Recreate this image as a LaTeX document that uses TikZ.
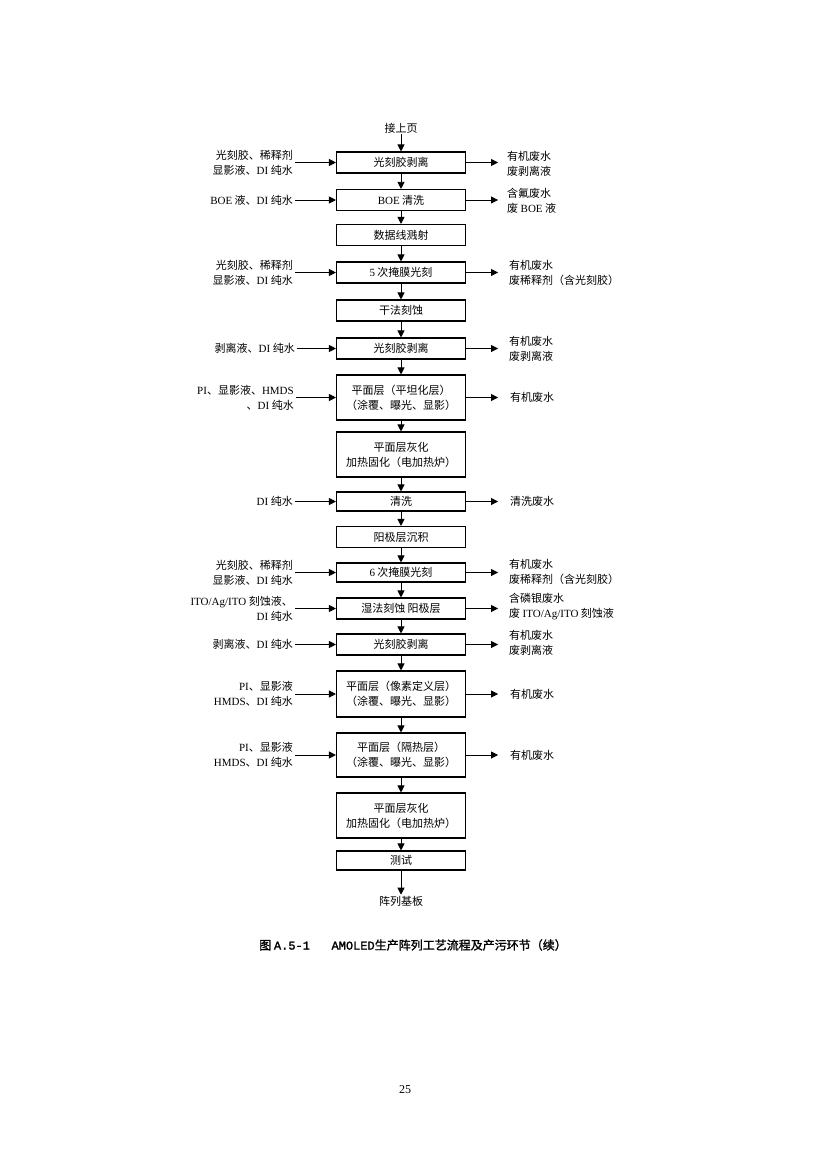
\documentclass[tikz,border=0pt]{standalone}
\usepackage{fontspec}
\setmainfont{Noto Sans CJK SC}
\newfontfamily\lt{Liberation Serif}
\newfontfamily\capcjk{Noto Sans CJK SC}[FakeBold=1.5]
\newfontfamily\capmono{Liberation Mono}[FakeBold=1.5]
\newcommand\Lt[1]{{\lt #1}}
\usetikzlibrary{arrows.meta}
\begin{document}
\begin{tikzpicture}[x=1pt,y=-1pt,
  font=\fontsize{11}{15}\selectfont,
  box/.style={draw,line width=1.1pt,minimum width=129pt,inner sep=1pt,align=center},
  sbox/.style={box,minimum height=21pt},
  dbox/.style={box,minimum height=45pt},
  lab/.style={inner sep=2pt,align=right,anchor=east},
  rlab/.style={inner sep=2pt,align=left,anchor=west},
  arr/.style={-{Triangle[length=7pt,width=7pt]},line width=0.8pt}]
\useasboundingbox (0,0) rectangle (826,1169);
\node[inner sep=1pt] (top) at (401,128) {接上页};
\node[sbox] (b1) at (401,162.5) {光刻胶剥离};
\node[sbox] (b2) at (401,200) {\Lt{BOE} 清洗};
\node[sbox] (b3) at (401,235) {数据线溅射};
\node[sbox] (b4) at (401,272.5) {\Lt{5} 次掩膜光刻};
\node[sbox] (b5) at (401,310.5) {干法刻蚀};
\node[sbox] (b6) at (401,348.5) {光刻胶剥离};
\node[dbox] (b7) at (401,397.5) {平面层（平坦化层）\\（涂覆、曝光、显影）};
\node[dbox] (b8) at (401,454.5) {平面层灰化\\加热固化（电加热炉）};
\node[sbox,minimum height=19pt] (b9) at (401,501.5) {清洗};
\node[sbox] (b10) at (401,537) {阳极层沉积};
\node[sbox,minimum height=19pt] (b11) at (401,572.5) {\Lt{6} 次掩膜光刻};
\node[sbox] (b12) at (401,608.5) {湿法刻蚀\ 阳极层};
\node[sbox] (b13) at (401,644.5) {光刻胶剥离};
\node[dbox,minimum height=46pt] (b14) at (401,694) {平面层（像素定义层）\\（涂覆、曝光、显影）};
\node[dbox,minimum height=44pt] (b15) at (401,755) {平面层（隔热层）\\（涂覆、曝光、显影）};
\node[dbox] (b16) at (401,815.5) {平面层灰化\\加热固化（电加热炉）};
\node[sbox,minimum height=19pt] (b17) at (401,860.5) {测试};
\node[inner sep=1pt] (bot) at (401,901) {阵列基板};
\draw[arr] (top) -- (b1);
\foreach \a/\b in {b1/b2,b2/b3,b3/b4,b4/b5,b5/b6,b6/b7,b7/b8,b8/b9,b9/b10,b10/b11,b11/b12,b12/b13,b13/b14,b14/b15,b15/b16,b16/b17,b17/bot}
  \draw[arr] (\a) -- (\b);
% left inputs
\node[lab] (l1) at (295,162.5) {光刻胶、稀释剂\\显影液、\Lt{DI} 纯水};
\node[lab] (l2) at (295,200) {\Lt{BOE} 液、\Lt{DI} 纯水};
\node[lab] (l4) at (295,272.5) {光刻胶、稀释剂\\显影液、\Lt{DI} 纯水};
\node[lab] (l6) at (297,348.5) {剥离液、\Lt{DI} 纯水};
\node[lab] (l7) at (296,397.5) {\Lt{PI}、显影液、\Lt{HMDS}\\、\Lt{DI} 纯水};
\node[lab] (l9) at (295,501.5) {\Lt{DI} 纯水};
\node[lab] (l11) at (295,572.5) {光刻胶、稀释剂\\显影液、\Lt{DI} 纯水};
\node[lab] (l12) at (295,608.5) {\Lt{ITO/Ag/ITO} 刻蚀液、\\\Lt{DI} 纯水};
\node[lab] (l13) at (295,644.5) {剥离液、\Lt{DI} 纯水};
\node[lab] (l14) at (295,694) {\Lt{PI}、显影液\\\Lt{HMDS}、\Lt{DI} 纯水};
\node[lab] (l15) at (295,755) {\Lt{PI}、显影液\\\Lt{HMDS}、\Lt{DI} 纯水};
\foreach \i in {1,2,4,6,7,9,11,12,13,14,15}
  \draw[arr] (l\i.east) -- (b\i.west);
% right outputs
\node[rlab] (r1) at (505,164) {有机废水\\废剥离液};
\node[rlab] (r2) at (505,201) {含氟废水\\废 \Lt{BOE} 液};
\node[rlab] (r4) at (507,272.5) {有机废水\\废稀释剂（含光刻胶）};
\node[rlab] (r6) at (507,348.5) {有机废水\\废剥离液};
\node[rlab] (r7) at (508,397.5) {有机废水};
\node[rlab] (r9) at (508,501.5) {清洗废水};
\node[rlab] (r11) at (507,572) {有机废水\\废稀释剂（含光刻胶）};
\node[rlab] (r12) at (507,607) {含磷银废水\\废 \Lt{ITO/Ag/ITO} 刻蚀液};
\node[rlab] (r13) at (507,643) {有机废水\\废剥离液};
\node[rlab] (r14) at (508,694) {有机废水};
\node[rlab] (r15) at (508,755) {有机废水};
\foreach \i in {1,2,4,6,7,9,11,12,13,14,15}
  \draw[arr] (b\i.east) -- ++(32,0);
\node (cap) at (413,945) {\capcjk\fontsize{12}{14}\selectfont 图 {\capmono A.5-1\ \ \ AMOLED}生产阵列工艺流程及产污环节（续）};
\node (pg) at (405,1090) {\lt\fontsize{12}{14}\selectfont 25};
\end{tikzpicture}
\end{document}
